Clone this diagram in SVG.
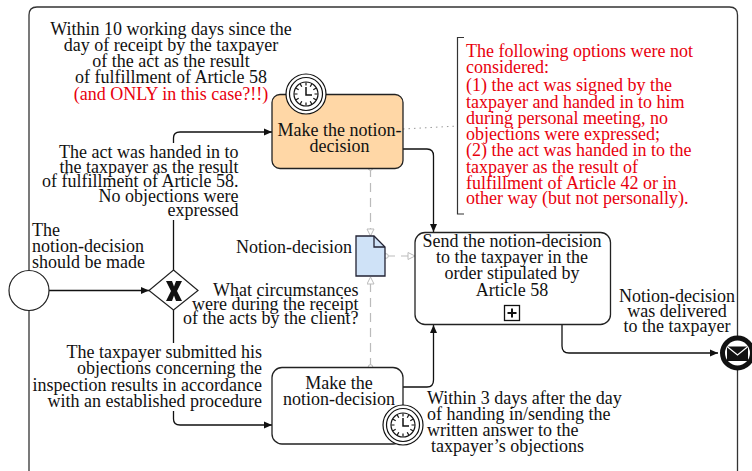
<svg xmlns="http://www.w3.org/2000/svg" width="752" height="471" viewBox="0 0 752 471">
<style>
text{font-family:"Liberation Serif","Times New Roman",serif;font-size:18px;fill:#111}
.r{fill:#e8000d}
.m{text-anchor:middle}
.e{text-anchor:end}
.box{stroke:#222;stroke-width:1.3}
.line{fill:none;stroke:#111;stroke-width:1.3}
.flow{fill:none;stroke:#111;stroke-width:1.3;marker-end:url(#a)}
.assoc{fill:none;stroke:#bbb;stroke-width:1.2;stroke-dasharray:9 6;marker-end:url(#o);marker-start:url(#c)}
.clk{fill:#fff;stroke:#111;stroke-width:1.2}
</style>
<defs>
<marker id="a" markerWidth="10" markerHeight="8" refX="8" refY="4" orient="auto" markerUnits="userSpaceOnUse"><path d="M0 .5L8 4L0 7.500z" fill="#111"/></marker>
<marker id="o" markerWidth="10" markerHeight="10" refX="8" refY="4" orient="auto" markerUnits="userSpaceOnUse"><path d="M1 .5L8 4L1 7.500z" fill="#fff" stroke="#bbb"/></marker>
<marker id="c" markerWidth="8" markerHeight="8" refX="4" refY="4" orient="auto" markerUnits="userSpaceOnUse"><circle cx="4" cy="4" r="2.300" fill="#fff" stroke="#bbb"/></marker>
<g id="clock">
<circle r="20" class="clk"/><circle r="16.500" class="clk"/><circle r="12" class="clk"/>
<path d="M0-11.500V-8.500M0 11.500V8.500M-11.500 0H-8.500M11.500 0H8.500M5.700-9.900L4.200-7.300M-5.700-9.900L-4.200-7.300M5.700 9.900L4.200 7.300M-5.700 9.900L-4.200 7.300M9.900-5.700L7.300-4.200M-9.900-5.700L-7.300-4.200M9.900 5.700L7.300 4.200M-9.900 5.700L-7.300 4.200" stroke="#111" stroke-width="1.200" fill="none"/>
<path d="M0-7V1H6" stroke="#111" stroke-width="1.500" fill="none"/>
</g>
</defs>
<rect width="752" height="471" fill="#fff"/>
<path id="pool" d="M29 480V15Q29 7 37 7H729.500Q737.500 7 737.500 15V480" fill="none" stroke="#333" stroke-width="1.300"/>
<g id="connectors">
<path class="flow" d="M49 290.500H149"/>
<path class="line" d="M173.500 270V220"/>
<path class="flow" d="M173.500 143V138Q173.500 132 180 132H272"/>
<path class="line" d="M173.500 310V343"/>
<path class="flow" d="M173.500 411V419Q173.500 425 180 425H272"/>
<path class="flow" d="M403 149H427Q433.500 149 433.500 156V232"/>
<path class="flow" d="M403 387H427Q433.500 387 433.500 380V325"/>
<path class="flow" d="M562 325V346Q562 353 569 353H718"/>
<path class="assoc" d="M370.500 168V236"/>
<path class="assoc" d="M370.500 367V277"/>
<path class="assoc" d="M386 256H415"/>
<path d="M403 129L458 126" fill="none" stroke="#999" stroke-width="1" stroke-dasharray="1.500 4"/>
<path d="M464 37.500H457.500V214H464" fill="none" stroke="#333" stroke-width="1.200"/>
</g>
<g id="start"><circle cx="29" cy="290.500" r="20" fill="#fff" stroke="#222" stroke-width="1.200"/></g>
<g id="gateway">
<path d="M173.500 270L198 290.500L173.500 310L149 290.500z" fill="#fff" stroke="#222" stroke-width="1.200"/>
<path d="M166 281H172L174 286.500L176 281H182L177 291L182 301H176L174 295.500L172 301H166L171 291z" fill="#111"/>
</g>
<g id="task1">
<rect x="272" y="94.500" width="131" height="74" rx="8" fill="#ffd7a6" class="box"/>
<use href="#clock" x="306" y="94"/>
<text class="m" x="339.500" y="136">Make the notion-</text>
<text class="m" x="339.500" y="152">decision</text>
</g>
<g id="task2">
<rect x="272" y="367.500" width="131" height="76.500" rx="10" fill="#fff" class="box"/>
<text class="m" x="339" y="389">Make the</text>
<text class="m" x="339" y="405">notion-decision</text>
<use href="#clock" x="403" y="425"/>
</g>
<g id="task3">
<rect x="415" y="232.500" width="195.500" height="92" rx="10" fill="#fff" class="box"/>
<text class="m" x="512" y="247">Send the notion-decision</text>
<text class="m" x="512" y="263">to the taxpayer in the</text>
<text class="m" x="512" y="279">order stipulated by</text>
<text class="m" x="512" y="296">Article 58</text>
<rect x="504.500" y="305.500" width="15" height="15" fill="#fff" stroke="#111" stroke-width="1.300"/>
<path d="M512 308.500V317.500M507.500 313H516.500" stroke="#111" stroke-width="2"/>
</g>
<g id="doc">
<path d="M356 236H374L385 247V276H356z" fill="#cfe2f7" stroke="#223" stroke-width="1.300"/>
<path d="M374 236V247H385" fill="none" stroke="#223" stroke-width="1.300"/>
<text class="e" x="352" y="253">Notion-decision</text>
</g>
<g id="end">
<circle cx="737.500" cy="353" r="15" fill="#fff" stroke="#111" stroke-width="5"/>
<rect x="727" y="346.500" width="21" height="14.500" fill="#111"/>
<path d="M727 346.500L737.500 355L748 346.500" fill="none" stroke="#fff" stroke-width="1.200"/>
</g>
<g id="labels">
<text class="m" x="171" y="35">Within 10 working days since the</text>
<text class="m" x="171" y="51">day of receipt by the taxpayer</text>
<text class="m" x="171" y="67">of the act as the result</text>
<text class="m" x="171" y="83">of fulfillment of Article 58</text>
<text class="m r" x="171" y="100">(and ONLY in this case?!!)</text>
<text class="e" x="238.500" y="158">The act was handed in to</text>
<text class="e" x="238.500" y="172.500">the taxpayer as the result</text>
<text class="e" x="238.500" y="187">of fulfillment of Article 58.</text>
<text class="e" x="238.500" y="202">No objections were</text>
<text class="e" x="238.500" y="216">expressed</text>
<text x="32" y="236">The</text>
<text x="32" y="252">notion-decision</text>
<text x="32" y="268">should be made</text>
<text class="e" x="358.500" y="296">What circumstances</text>
<text class="e" x="358.500" y="310">were during the receipt</text>
<text class="e" x="358.500" y="324">of the acts by the client?</text>
<text class="e" x="262" y="358">The taxpayer submitted his</text>
<text class="e" x="262" y="374">objections concerning the</text>
<text class="e" x="262" y="391">inspection results in accordance</text>
<text class="e" x="262" y="407">with an established procedure</text>
<text x="427" y="403.500">Within 3 days after the day</text>
<text x="427" y="419.500">of handing in/sending the</text>
<text x="427" y="435.500">written answer to the</text>
<text x="431" y="451.500">taxpayer’s objections</text>
<text class="m" x="677" y="302">Notion-decision</text>
<text class="m" x="677" y="317">was delivered</text>
<text class="m" x="677" y="332">to the taxpayer</text>
<text class="r" x="466" y="57">The following options were not</text>
<text class="r" x="466" y="73">considered:</text>
<text class="r" x="466" y="90.500">(1) the act was signed by the</text>
<text class="r" x="466" y="107.500">taxpayer and handed in to him</text>
<text class="r" x="466" y="123.500">during personal meeting, no</text>
<text class="r" x="466" y="139.500">objections were expressed;</text>
<text class="r" x="466" y="155.500">(2) the act was handed in to the</text>
<text class="r" x="466" y="172.500">taxpayer as the result of</text>
<text class="r" x="466" y="188.500">fulfillment of Article 42 or in</text>
<text class="r" x="466" y="204">other way (but not personally).</text>
</g>
</svg>
